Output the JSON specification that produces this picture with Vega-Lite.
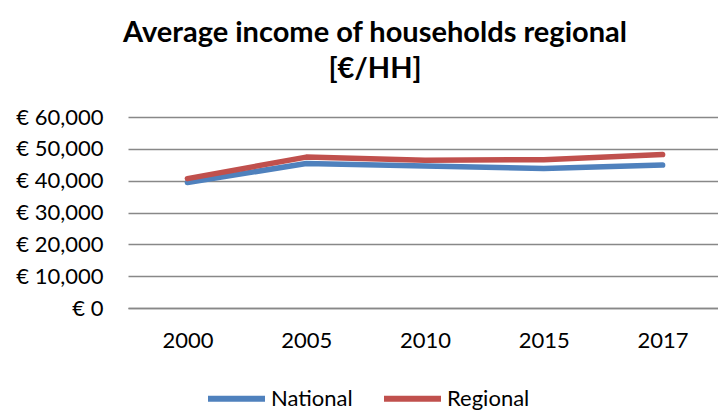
{
  "$schema": "https://vega.github.io/schema/vega-lite/v6.json",
  "width": 594,
  "height": 191,
  "autosize": {"type": "none"},
  "padding": {"left": 128, "top": 117, "right": 0, "bottom": 102},
  "background": "white",
  "config": {
    "font": "Lato",
    "view": {"stroke": null}
  },
  "title": {
    "text": ["Average income of households regional", "[€/HH]"],
    "fontSize": 29,
    "fontWeight": "bold",
    "color": "#000000",
    "anchor": "middle",
    "dx": -50,
    "lineHeight": 36,
    "offset": 22
  },
  "data": {
    "values": [
      {"year": "2000", "series": "National", "value": 39400},
      {"year": "2005", "series": "National", "value": 45400},
      {"year": "2010", "series": "National", "value": 44600},
      {"year": "2015", "series": "National", "value": 43800},
      {"year": "2017", "series": "National", "value": 44900},
      {"year": "2000", "series": "Regional", "value": 40650},
      {"year": "2005", "series": "Regional", "value": 47400},
      {"year": "2010", "series": "Regional", "value": 46400},
      {"year": "2015", "series": "Regional", "value": 46600},
      {"year": "2017", "series": "Regional", "value": 48200}
    ]
  },
  "mark": {"type": "line", "strokeWidth": 5.5, "strokeCap": "round", "strokeJoin": "round"},
  "encoding": {
    "x": {
      "field": "year",
      "type": "ordinal",
      "scale": {"type": "point", "padding": 0.5},
      "axis": {
        "title": null,
        "labelAngle": 0,
        "labelFontSize": 22,
        "labelColor": "#000000",
        "labelPadding": 22,
        "ticks": false,
        "domainColor": "#888888",
        "domainWidth": 1.5,
        "grid": false
      }
    },
    "y": {
      "field": "value",
      "type": "quantitative",
      "scale": {"domain": [0, 60000]},
      "axis": {
        "title": null,
        "values": [0, 10000, 20000, 30000, 40000, 50000, 60000],
        "labelExpr": "'€ ' + format(datum.value, ',')",
        "labelFontSize": 22,
        "labelColor": "#000000",
        "labelPadding": 25,
        "ticks": false,
        "domain": false,
        "grid": true,
        "gridColor": "#888888",
        "gridWidth": 1.5
      }
    },
    "color": {
      "field": "series",
      "type": "nominal",
      "scale": {"domain": ["National", "Regional"], "range": ["#4F81BD", "#C0504D"]},
      "legend": {
        "title": null,
        "orient": "none",
        "direction": "horizontal",
        "legendX": 77,
        "legendY": 250,
        "symbolType": "stroke",
        "symbolSize": 3249,
        "symbolStrokeWidth": 6,
        "labelFontSize": 22,
        "labelColor": "#000000",
        "labelOffset": 3,
        "columnPadding": 19
      }
    }
  }
}
